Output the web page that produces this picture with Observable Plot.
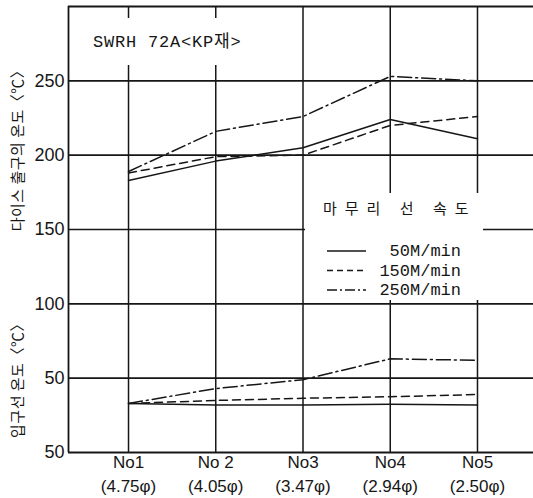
<!DOCTYPE html>
<html><head><meta charset="utf-8">
<script src="https://cdn.jsdelivr.net/npm/d3@7"></script>
<script src="https://cdn.jsdelivr.net/npm/@observablehq/plot@0.6"></script>
<style>
body{margin:0;background:#fff;}
</style></head><body><div id="chart"></div>
<script>
// ---- data ----
const stations = ["No1", "No 2", "No3", "No4", "No5"];
const diameters = ["(4.75φ)", "(4.05φ)", "(3.47φ)", "(2.94φ)", "(2.50φ)"];
const speeds = ["50M/min", "150M/min", "250M/min"];
// die exit temperature (upper panel)
const exit50  = [183, 196, 205, 224, 211];
const exit150 = [188, 199, 200, 220, 226];
const exit250 = [189, 216, 226, 253, 250];
// inlet wire temperature (lower panel)
const inlet50  = [33, 32, 32, 32.5, 32];
const inlet150 = [33, 35, 36.5, 37.5, 39];
const inlet250 = [33, 43, 49, 63, 62];
const yTicks = [0, 50, 100, 150, 200, 250];
const yTickLabels = ["50", "50", "100", "150", "200", "250"];
const gridY = [50, 100, 150, 200, 250];
const exitLabel = "다이스 출구의 온도〈℃〉";
const inletLabel = "입구선 온도〈℃〉";
const materialLabel = "SWRH 72A<KP재>";
const legendTitle = "마무리 선 속도";
const legendLabels = ["50M/min", "150M/min", "250M/min"];

// ---- build rows ----
const idx = stations.map((s, i) => i + 1);
const seriesBySpeed = [
  {exit: exit50, inlet: inlet50},
  {exit: exit150, inlet: inlet150},
  {exit: exit250, inlet: inlet250}
];
const rows = speeds.map((sp, k) => [
  ...idx.map((x, i) => ({station: x, value: seriesBySpeed[k].exit[i], panel: "exit", speed: sp})),
  ...idx.map((x, i) => ({station: x, value: seriesBySpeed[k].inlet[i], panel: "inlet", speed: sp}))
]);
const dashes = [null, "8,5", "14,4,2,4"];
const ink = "#161616";
const xDomain = [0.312, 5.642];
const yDomain = [0, 300];

const plot = Plot.plot({
  width: 533, height: 498,
  marginLeft: 68, marginRight: 0, marginTop: 6, marginBottom: 46,
  x: {domain: xDomain, axis: null, label: null},
  y: {domain: yDomain, axis: null, label: null},
  style: {fontFamily: "'Liberation Sans', Arial, sans-serif", background: "#fff"},
  marks: [
    Plot.ruleY(gridY, {stroke: ink, strokeWidth: 1.6}),
    Plot.ruleY([yDomain[0], yDomain[1]], {stroke: ink, strokeWidth: 1.8}),
    Plot.ruleX(idx, {stroke: ink, strokeWidth: 1.5}),
    Plot.ruleX([xDomain[0]], {stroke: ink, strokeWidth: 1.8}),
    ...rows.map((r, k) => Plot.line(r, {
      x: "station", y: "value", z: "panel",
      stroke: ink, strokeWidth: 1.5,
      strokeDasharray: dashes[k]
    })),
    Plot.axisY(yTicks, {
      tickSize: 0, tickPadding: 4, fontSize: 18, fill: ink, label: null,
      tickFormat: d => yTickLabels[yTicks.indexOf(d)]
    }),
    Plot.axisX(idx, {
      tickSize: 0, tickPadding: -2, fontSize: 17, lineHeight: 1.42, fill: ink, label: null,
      tickFormat: d => stations[d - 1] + "\n" + diameters[d - 1]
    })
  ]
});
document.getElementById("chart").appendChild(plot);

// ---- annotations (legend, labels) ----
const svg = d3.select(plot);
const g = svg.append("g").attr("text-anchor", "start");
const mono = "'Liberation Mono', 'DejaVu Sans Mono', monospace";
const kr = "'Noto Sans CJK KR', sans-serif";

// material label with white backing
g.append("rect").attr("x", 72).attr("y", 18).attr("width", 178).attr("height", 47).attr("fill", "#fff");
g.append("text").attr("x", 93).attr("y", 47).attr("text-anchor", "start")
  .attr("font-family", mono + ", " + kr).attr("font-size", 17).attr("letter-spacing", 0.8).attr("fill", ink)
  .text(materialLabel);

// legend box
g.append("rect").attr("x", 305).attr("y", 193).attr("width", 178).attr("height", 107).attr("fill", "#fff");
g.append("text").attr("x", 323).attr("y", 214).attr("text-anchor", "start")
  .attr("font-family", kr).attr("font-size", 15).attr("letter-spacing", 8).attr("fill", ink)
  .text(legendTitle);
legendLabels.forEach((lab, k) => {
  const yy = 251 + k * 19.5;
  g.append("line").attr("x1", 327).attr("x2", 366).attr("y1", yy).attr("y2", yy)
    .attr("stroke", ink).attr("stroke-width", 1.4)
    .attr("stroke-dasharray", dashes[k] ? (k === 1 ? "6,4" : "10,3,2,3") : null);
  g.append("text").attr("x", 461).attr("y", yy + 5).attr("text-anchor", "end")
    .attr("font-family", mono).attr("font-size", 17).attr("fill", ink)
    .text(lab);
});

// y axis titles
g.append("text").attr("transform", "translate(16,147) rotate(-90)")
  .attr("text-anchor", "middle").attr("dominant-baseline", "central")
  .attr("font-family", kr).attr("font-size", 15).attr("letter-spacing", 0.5).attr("fill", ink)
  .text(exitLabel);
g.append("text").attr("transform", "translate(16,377) rotate(-90)")
  .attr("text-anchor", "middle").attr("dominant-baseline", "central")
  .attr("font-family", kr).attr("font-size", 15).attr("letter-spacing", 0.5).attr("fill", ink)
  .text(inletLabel);
</script>
</body></html>
